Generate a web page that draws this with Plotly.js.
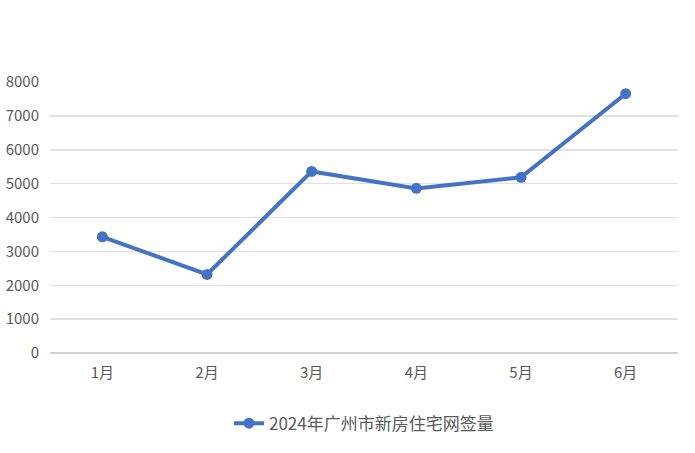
<!DOCTYPE html>
<html>
<head>
<meta charset="utf-8">
<script src="https://cdn.plot.ly/plotly-3.0.1.min.js"></script>
<style>
  body { margin: 0; background: #fff; }
  #chart { width: 695px; height: 453px; }
</style>
</head>
<body>
<div id="chart"></div>
<script>
var months = ['1月', '2月', '3月', '4月', '5月', '6月'];
var sales = [3430, 2320, 5360, 4860, 5185, 7655];
var seriesName = '2024年广州市新房住宅网签量';
var yTicks = [0, 1000, 2000, 3000, 4000, 5000, 6000, 7000, 8000];

var trace = {
    x: months,
    y: sales,
    name: seriesName,
    mode: 'lines+markers',
    type: 'scatter',
    line: { color: '#4472c4', width: 4 },
    marker: { color: '#4472c4', size: 11 },
    showlegend: true
};

var layout = {
    width: 695,
    height: 453,
    margin: { l: 50, r: 17, t: 82, b: 99 },
    paper_bgcolor: '#fff',
    plot_bgcolor: '#fff',
    font: { family: '"Noto Sans CJK SC", "Noto Sans", sans-serif', color: '#595959', size: 15 },
    xaxis: {
        type: 'category',
        range: [-0.5, 5.5],
        showgrid: false,
        zeroline: false,
        showline: false,
        ticks: '',
        tickfont: { size: 15, color: '#595959' },
        ticklabelstandoff: 9
    },
    yaxis: {
        range: [0, 8000],
        tickvals: yTicks,
        showgrid: true,
        gridcolor: '#e0e0e0',
        gridwidth: 1.5,
        zeroline: true,
        zerolinecolor: '#d0d0d0',
        zerolinewidth: 2,
        showline: false,
        ticks: '',
        tickfont: { size: 15, color: '#595959' },
        ticklabelstandoff: 10
    },
    showlegend: true,
    legend: {
        orientation: 'h',
        x: 0.5,
        xanchor: 'center',
        y: -0.19,
        yanchor: 'top',
        font: { size: 17, color: '#595959' }
    }
};

var config = { staticPlot: true, responsive: false };

Plotly.newPlot('chart', [trace], layout, config);
</script>
</body>
</html>
